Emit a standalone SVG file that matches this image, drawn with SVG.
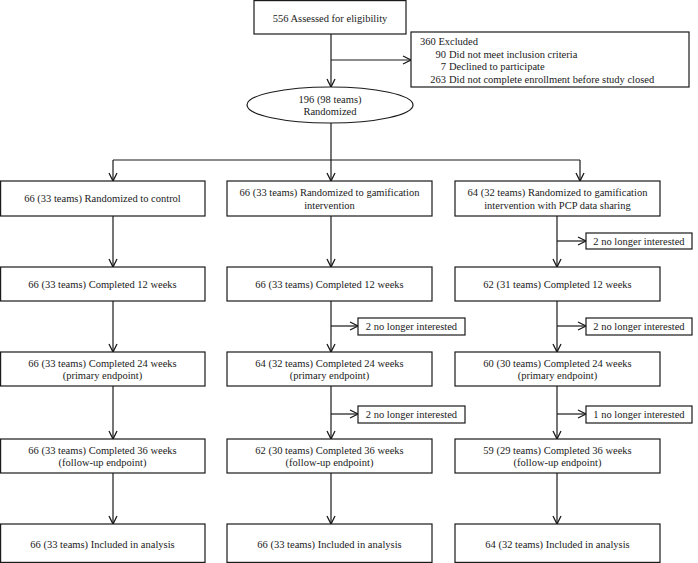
<svg xmlns="http://www.w3.org/2000/svg" width="698" height="563" viewBox="0 0 698 563" font-family="'Liberation Serif', 'Times New Roman', 'DejaVu Serif', Times, serif">
<style>
rect.b{fill:#fff;stroke:#1a1a1a;stroke-width:1.2}
ellipse.b{fill:#fff;stroke:#1a1a1a;stroke-width:1.2}
text{font-family:'Liberation Serif','Times New Roman','DejaVu Serif',Times,serif;font-size:10.5px;fill:#1a1a1a}
.c{text-anchor:middle}
.r{text-anchor:end}
#connectors path{fill:none;stroke:#1a1a1a;stroke-width:1.2}
</style>
<defs>
<marker id="ah" markerWidth="12" markerHeight="10" refX="9" refY="5" orient="auto" markerUnits="userSpaceOnUse">
<path d="M1,1 L9,5 L1,9" fill="none" stroke="#1a1a1a" stroke-width="1.3"/>
</marker>
</defs>
<rect width="698" height="563" fill="#fff"/>
<g id="connectors">
<path d="M331,34 V87" marker-end="url(#ah)"/>
<path d="M331,60 H411" marker-end="url(#ah)"/>
<path d="M331,123 V160"/>
<path d="M113,160 H580"/>
<path d="M113,160 V181" marker-end="url(#ah)"/>
<path d="M331,160 V181" marker-end="url(#ah)"/>
<path d="M580,160 V181" marker-end="url(#ah)"/>
<path d="M113,216 V267" marker-end="url(#ah)"/>
<path d="M331,216 V267" marker-end="url(#ah)"/>
<path d="M557,216 V267" marker-end="url(#ah)"/>
<path d="M557,241 H586" marker-end="url(#ah)"/>
<path d="M113,301 V352" marker-end="url(#ah)"/>
<path d="M331,301 V352" marker-end="url(#ah)"/>
<path d="M331,326 H358" marker-end="url(#ah)"/>
<path d="M557,301 V352" marker-end="url(#ah)"/>
<path d="M557,326 H586" marker-end="url(#ah)"/>
<path d="M113,386 V439" marker-end="url(#ah)"/>
<path d="M331,386 V439" marker-end="url(#ah)"/>
<path d="M331,414 H358" marker-end="url(#ah)"/>
<path d="M557,386 V439" marker-end="url(#ah)"/>
<path d="M557,414 H586" marker-end="url(#ah)"/>
<path d="M113,473 V524" marker-end="url(#ah)"/>
<path d="M331,473 V524" marker-end="url(#ah)"/>
<path d="M557,473 V524" marker-end="url(#ah)"/>
</g>
<g id="assessed"><rect class="b" x="254" y="0.6" width="152" height="33.4"/><text class="c" x="330" y="21.5">556 Assessed for eligibility</text></g>
<g id="excluded"><rect class="b" x="411" y="32" width="278" height="55"/>
<text x="420" y="45">360 Excluded</text>
<text class="r" x="446" y="57.5">90</text><text x="449" y="57.5">Did not meet inclusion criteria</text>
<text class="r" x="446" y="70">7</text><text x="449" y="70">Declined to participate</text>
<text class="r" x="446" y="82.5">263</text><text x="449" y="82.5">Did not complete enrollment before study closed</text></g>
<g id="randomized"><ellipse class="b" cx="330" cy="105" rx="83" ry="18"/><text class="c" x="330" y="102.5">196 (98 teams)</text><text class="c" x="330" y="115">Randomized</text></g>

<g id="c1r1"><rect class="b" x="0.6" y="181" width="204.4" height="35"/><text class="c" x="102.5" y="202">66 (33 teams) Randomized to control</text></g>
<g id="c2r1"><rect class="b" x="227" y="181" width="205" height="35"/><text class="c" x="329.5" y="196">66 (33 teams) Randomized to gamification</text><text class="c" x="329.5" y="208.5">intervention</text></g>
<g id="c3r1"><rect class="b" x="455" y="181" width="205" height="35"/><text class="c" x="557.5" y="196">64 (32 teams) Randomized to gamification</text><text class="c" x="557.5" y="208.5">intervention with PCP data sharing</text></g>

<g id="c3x1"><rect class="b" x="586" y="233" width="106" height="16"/><text class="c" x="639" y="244.5">2 no longer interested</text></g>

<g id="c1r2"><rect class="b" x="0.6" y="267" width="204.4" height="34"/><text class="c" x="102.5" y="287.5">66 (33 teams) Completed 12 weeks</text></g>
<g id="c2r2"><rect class="b" x="227" y="267" width="205" height="34"/><text class="c" x="329.5" y="287.5">66 (33 teams) Completed 12 weeks</text></g>
<g id="c3r2"><rect class="b" x="455" y="267" width="205" height="34"/><text class="c" x="557.5" y="287.5">62 (31 teams) Completed 12 weeks</text></g>

<g id="c2x2"><rect class="b" x="358" y="318" width="107" height="17"/><text class="c" x="411.5" y="330">2 no longer interested</text></g>
<g id="c3x2"><rect class="b" x="586" y="318" width="106" height="17"/><text class="c" x="639" y="330">2 no longer interested</text></g>

<g id="c1r3"><rect class="b" x="0.6" y="352" width="204.4" height="34"/><text class="c" x="102.5" y="366.5">66 (33 teams) Completed 24 weeks</text><text class="c" x="102.5" y="379">(primary endpoint)</text></g>
<g id="c2r3"><rect class="b" x="227" y="352" width="205" height="34"/><text class="c" x="329.5" y="366.5">64 (32 teams) Completed 24 weeks</text><text class="c" x="329.5" y="379">(primary endpoint)</text></g>
<g id="c3r3"><rect class="b" x="455" y="352" width="205" height="34"/><text class="c" x="557.5" y="366.5">60 (30 teams) Completed 24 weeks</text><text class="c" x="557.5" y="379">(primary endpoint)</text></g>

<g id="c2x3"><rect class="b" x="358" y="406" width="107" height="17"/><text class="c" x="411.5" y="418">2 no longer interested</text></g>
<g id="c3x3"><rect class="b" x="586" y="406" width="106" height="17"/><text class="c" x="639" y="418">1 no longer interested</text></g>

<g id="c1r4"><rect class="b" x="0.6" y="439" width="204.4" height="34"/><text class="c" x="102.5" y="453.5">66 (33 teams) Completed 36 weeks</text><text class="c" x="102.5" y="466">(follow-up endpoint)</text></g>
<g id="c2r4"><rect class="b" x="227" y="439" width="205" height="34"/><text class="c" x="329.5" y="453.5">62 (30 teams) Completed 36 weeks</text><text class="c" x="329.5" y="466">(follow-up endpoint)</text></g>
<g id="c3r4"><rect class="b" x="455" y="439" width="205" height="34"/><text class="c" x="557.5" y="453.5">59 (29 teams) Completed 36 weeks</text><text class="c" x="557.5" y="466">(follow-up endpoint)</text></g>

<g id="c1r5"><rect class="b" x="0.6" y="524" width="204.4" height="38.4"/><text class="c" x="102.5" y="548">66 (33 teams) Included in analysis</text></g>
<g id="c2r5"><rect class="b" x="227" y="524" width="205" height="38.4"/><text class="c" x="329.5" y="548">66 (33 teams) Included in analysis</text></g>
<g id="c3r5"><rect class="b" x="455" y="524" width="205" height="38.4"/><text class="c" x="557.5" y="548">64 (32 teams) Included in analysis</text></g>
</svg>
